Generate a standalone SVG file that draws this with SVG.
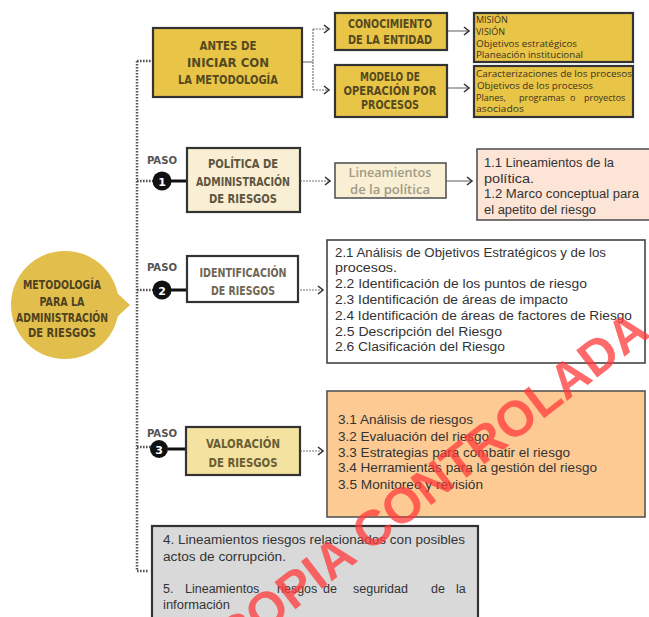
<svg xmlns="http://www.w3.org/2000/svg" width="649" height="617" viewBox="0 0 649 617">
<defs>
<style>
.hd{font-family:"DejaVu Sans Condensed","Liberation Sans Narrow","DejaVu Sans",sans-serif;font-weight:bold;font-size:12.5px;text-anchor:middle}
.paso{font-family:"DejaVu Sans Condensed","DejaVu Sans",sans-serif;font-weight:bold;font-size:10px;fill:#555}
.sm{font-family:"Open Sans","Noto Sans",sans-serif;font-size:9px;fill:#3a3220}
.bd{font-family:"Liberation Sans",Arial,sans-serif;font-size:12.5px;fill:#333}
.dot{fill:none;stroke:#555;stroke-width:2.5;stroke-dasharray:1.6 1.4}
.thin{fill:none;stroke:#777;stroke-width:1.2}
.thind{fill:none;stroke:#777;stroke-width:1.2;stroke-dasharray:2 1}
.box{stroke:#333;stroke-width:2.2}
</style>
<marker id="chev" markerUnits="userSpaceOnUse" markerWidth="10" markerHeight="12" refX="6" refY="5" orient="auto">
<path d="M1,1 L6,5 L1,9" fill="none" stroke="#333" stroke-width="1.6"/>
</marker>
</defs>
<rect width="649" height="617" fill="#ffffff"/>

<g id="connectors">
<path class="dot" d="M137,61 V571 H148"/>
<path class="dot" d="M137,61 H153"/>
<path class="dot" d="M137,181 H153"/>
<path class="dot" d="M137,290 H153"/>
<path class="dot" d="M137,447 H153"/>
<path class="thin" d="M302,62 H313"/>
<path class="thind" d="M313,29 V90"/>
<path class="thind" d="M313,29 H329" marker-end="url(#chev)"/>
<path class="thind" d="M313,90 H329" marker-end="url(#chev)"/>
<path class="thin" d="M447,31 H469" marker-end="url(#chev)"/>
<path class="thin" d="M447,88 H469" marker-end="url(#chev)"/>
<path class="thind" d="M300,181 H330" marker-end="url(#chev)"/>
<path class="thin" d="M446,181 H472" marker-end="url(#chev)"/>
<path class="thind" d="M297,290 H323" marker-end="url(#chev)"/>
<path class="thind" d="M300,451 H323" marker-end="url(#chev)"/>
<path d="M170,181 H187 M170,290 H187 M168,449 H186" stroke="#111" stroke-width="3"/>
</g>

<g id="metodologia">
<circle cx="65" cy="305" r="54" fill="#e2bf4c"/>
<path d="M116,292 L130,305 L116,318 Z" fill="#e2bf4c"/>
<text class="hd" fill="#4e4220" font-size="11.5"><tspan x="62" y="289" textLength="78" lengthAdjust="spacingAndGlyphs">METODOLOGÍA</tspan><tspan x="62" y="306" textLength="45" lengthAdjust="spacingAndGlyphs">PARA LA</tspan><tspan x="62" y="322" textLength="92" lengthAdjust="spacingAndGlyphs">ADMINISTRACIÓN</tspan><tspan x="62" y="337" textLength="68" lengthAdjust="spacingAndGlyphs">DE RIESGOS</tspan></text>
</g>

<g id="antes">
<rect class="box" x="153" y="28" width="149" height="69" fill="#e8c547"/>
<text class="hd" fill="#55491f"><tspan x="228" y="50" textLength="57" lengthAdjust="spacingAndGlyphs">ANTES DE</tspan><tspan x="228" y="67" textLength="82" lengthAdjust="spacingAndGlyphs">INICIAR CON</tspan><tspan x="228" y="84" textLength="100" lengthAdjust="spacingAndGlyphs">LA METODOLOGÍA</tspan></text>
</g>

<g id="conocimiento">
<rect class="box" x="335" y="13" width="112" height="37" fill="#e8c547"/>
<text class="hd" fill="#55491f"><tspan x="390" y="28" textLength="84" lengthAdjust="spacingAndGlyphs">CONOCIMIENTO</tspan><tspan x="390" y="44" textLength="84" lengthAdjust="spacingAndGlyphs">DE LA ENTIDAD</tspan></text>
</g>

<g id="mision">
<rect class="box" x="474" y="13" width="159" height="49" fill="#e8c547" stroke-width="2"/>
<text class="sm"><tspan x="476" y="23">MISIÓN</tspan><tspan x="476" y="35">VISIÓN</tspan><tspan x="476" y="47" textLength="101" lengthAdjust="spacingAndGlyphs">Objetivos estratégicos</tspan><tspan x="476" y="58" textLength="107" lengthAdjust="spacingAndGlyphs">Planeación institucional</tspan></text>
</g>

<g id="modelo">
<rect class="box" x="335" y="65" width="112" height="52" fill="#e8c547"/>
<text class="hd" fill="#55491f"><tspan x="390" y="81" textLength="60" lengthAdjust="spacingAndGlyphs">MODELO DE</tspan><tspan x="390" y="95" textLength="93" lengthAdjust="spacingAndGlyphs">OPERACIÓN POR</tspan><tspan x="390" y="109" textLength="58" lengthAdjust="spacingAndGlyphs">PROCESOS</tspan></text>
</g>

<g id="caracterizaciones">
<rect class="box" x="474" y="66" width="159" height="51" fill="#e8c547" stroke-width="2"/>
<text class="sm"><tspan x="476" y="77" textLength="156" lengthAdjust="spacingAndGlyphs">Caracterizaciones de los procesos</tspan><tspan x="477" y="89" textLength="116" lengthAdjust="spacingAndGlyphs">Objetivos de los procesos</tspan><tspan x="476" y="101">Planes,</tspan><tspan x="519" y="101">programas</tspan><tspan x="570" y="101">o</tspan><tspan x="584" y="101">proyectos</tspan><tspan x="476" y="112" textLength="48" lengthAdjust="spacingAndGlyphs">asociados</tspan></text>
</g>

<g id="paso1">
<text class="paso" x="147" y="164" textLength="30" lengthAdjust="spacingAndGlyphs">PASO</text>
<circle cx="162" cy="181" r="9.5" fill="#111"/>
<text x="162" y="185.5" text-anchor="middle" font-family="DejaVu Sans, sans-serif" font-weight="bold" font-size="11" fill="#fff">1</text>
</g>

<g id="politica">
<rect class="box" x="187" y="148" width="113" height="64" fill="#f9efd5"/>
<text class="hd" fill="#5e5540"><tspan x="243" y="168" textLength="70" lengthAdjust="spacingAndGlyphs">POLÍTICA DE</tspan><tspan x="243" y="186" textLength="94" lengthAdjust="spacingAndGlyphs">ADMINISTRACIÓN</tspan><tspan x="243" y="203" textLength="68" lengthAdjust="spacingAndGlyphs">DE RIESGOS</tspan></text>
</g>

<g id="lineamientos">
<rect x="335" y="163" width="111" height="35" fill="#f9efd5" stroke="#555" stroke-width="1.6"/>
<text font-family="Open Sans, Noto Sans, sans-serif" font-weight="600" font-size="12.5" fill="#a39a86" text-anchor="middle"><tspan x="390" y="177" textLength="83" lengthAdjust="spacingAndGlyphs">Lineamientos</tspan><tspan x="390" y="194" textLength="80" lengthAdjust="spacingAndGlyphs">de la política</tspan></text>
</g>

<g id="marco">
<rect x="477" y="149" width="175" height="71" fill="#fce4d6" stroke="#555" stroke-width="1.6"/>
<text class="bd"><tspan x="484" y="167" textLength="130" lengthAdjust="spacingAndGlyphs">1.1 Lineamientos de la</tspan><tspan x="484" y="183" textLength="50" lengthAdjust="spacingAndGlyphs">política.</tspan><tspan x="484" y="198" textLength="155" lengthAdjust="spacingAndGlyphs">1.2 Marco conceptual para</tspan><tspan x="484" y="214" textLength="112" lengthAdjust="spacingAndGlyphs">el apetito del riesgo</tspan></text>
</g>

<g id="paso2">
<text class="paso" x="147" y="271" textLength="30" lengthAdjust="spacingAndGlyphs">PASO</text>
<circle cx="162" cy="290" r="9.5" fill="#111"/>
<text x="162" y="294.5" text-anchor="middle" font-family="DejaVu Sans, sans-serif" font-weight="bold" font-size="11" fill="#fff">2</text>
</g>

<g id="identificacion">
<rect class="box" x="187" y="256" width="111" height="46" fill="#ffffff"/>
<text class="hd" fill="#6e6654"><tspan x="243" y="277" textLength="87" lengthAdjust="spacingAndGlyphs">IDENTIFICACIÓN</tspan><tspan x="243" y="295" textLength="64" lengthAdjust="spacingAndGlyphs">DE RIESGOS</tspan></text>
</g>

<g id="analisis">
<rect x="327" y="240" width="318" height="123" fill="#ffffff" stroke="#444" stroke-width="1.6"/>
<text class="bd"><tspan x="335" y="257" textLength="271" lengthAdjust="spacingAndGlyphs">2.1 Análisis de Objetivos Estratégicos y de los</tspan><tspan x="335" y="272" textLength="62" lengthAdjust="spacingAndGlyphs">procesos.</tspan><tspan x="335" y="288" textLength="252" lengthAdjust="spacingAndGlyphs">2.2 Identificación de los puntos de riesgo</tspan><tspan x="335" y="304" textLength="233" lengthAdjust="spacingAndGlyphs">2.3 Identificación de áreas de impacto</tspan><tspan x="335" y="320" textLength="297" lengthAdjust="spacingAndGlyphs">2.4 Identificación de áreas de factores de Riesgo</tspan><tspan x="335" y="336" textLength="167" lengthAdjust="spacingAndGlyphs">2.5 Descripción del Riesgo</tspan><tspan x="335" y="351" textLength="170" lengthAdjust="spacingAndGlyphs">2.6 Clasificación del Riesgo</tspan></text>
</g>

<g id="paso3">
<text class="paso" x="147" y="437" textLength="30" lengthAdjust="spacingAndGlyphs">PASO</text>
<circle cx="159" cy="449" r="9" fill="#111"/>
<text x="159" y="453.5" text-anchor="middle" font-family="DejaVu Sans, sans-serif" font-weight="bold" font-size="11" fill="#fff">3</text>
</g>

<g id="valoracion">
<rect class="box" x="186" y="427" width="114" height="48" fill="#f4e3a0"/>
<text class="hd" fill="#6a5d34"><tspan x="243" y="448" textLength="74" lengthAdjust="spacingAndGlyphs">VALORACIÓN</tspan><tspan x="243" y="467" textLength="69" lengthAdjust="spacingAndGlyphs">DE RIESGOS</tspan></text>
</g>

<g id="analisis-riesgos">
<rect x="327" y="391" width="318" height="126" fill="#fdca93" stroke="#555" stroke-width="1.6"/>
<text class="bd" fill="#3a2a1a"><tspan x="338" y="424" textLength="135" lengthAdjust="spacingAndGlyphs">3.1 Análisis de riesgos</tspan><tspan x="338" y="441" textLength="151" lengthAdjust="spacingAndGlyphs">3.2 Evaluación del riesgo</tspan><tspan x="338" y="457" textLength="232" lengthAdjust="spacingAndGlyphs">3.3 Estrategias para combatir el riesgo</tspan><tspan x="338" y="472" textLength="259" lengthAdjust="spacingAndGlyphs">3.4 Herramientas para la gestión del riesgo</tspan><tspan x="338" y="489" textLength="145" lengthAdjust="spacingAndGlyphs">3.5 Monitoreo y revisión</tspan></text>
</g>

<g id="lineamientos-corrupcion">
<rect class="box" x="152" y="526" width="326" height="95" fill="#d9d9d9"/>
<text class="bd"><tspan x="163" y="544" textLength="302" lengthAdjust="spacingAndGlyphs">4. Lineamientos riesgos relacionados con posibles</tspan><tspan x="163" y="561" textLength="123" lengthAdjust="spacingAndGlyphs">actos de corrupción.</tspan><tspan x="163" y="593">5.</tspan><tspan x="185" y="593">Lineamientos</tspan><tspan x="277" y="593">riesgos</tspan><tspan x="323" y="593">de</tspan><tspan x="353" y="593">seguridad</tspan><tspan x="431" y="593">de</tspan><tspan x="456" y="593">la</tspan><tspan x="163" y="609" textLength="67" lengthAdjust="spacingAndGlyphs">información</tspan></text>
</g>

<text x="233" y="657" transform="rotate(-37.5 233 657)" font-family="Liberation Sans, Arial, sans-serif" font-weight="bold" font-size="50" fill="#ff3a3a" fill-opacity="0.75" textLength="528" lengthAdjust="spacing">COPIA CONTROLADA</text>
</svg>
